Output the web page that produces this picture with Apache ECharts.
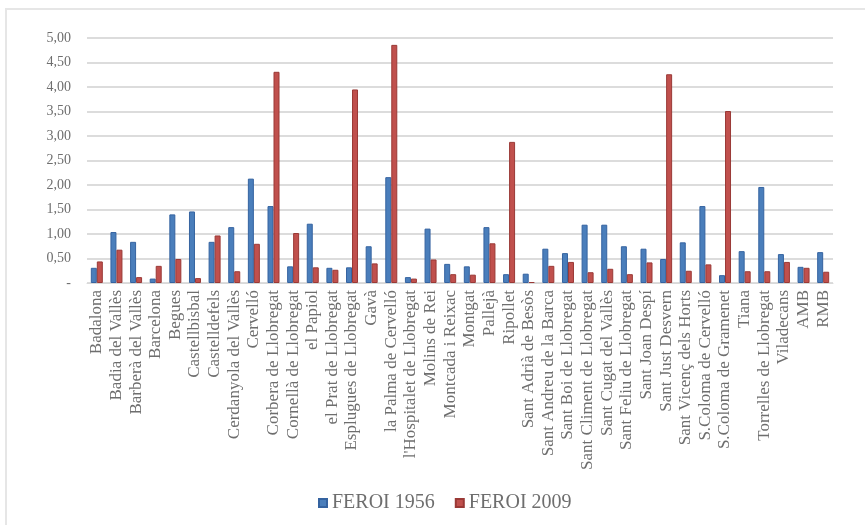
<!DOCTYPE html>
<html>
<head>
<meta charset="utf-8">
<script src="https://cdn.jsdelivr.net/npm/echarts@6/dist/echarts.min.js"></script>
<style>html,body{margin:0;padding:0;background:#fff}#c{width:865px;height:525px}</style>
</head>
<body>
<div id="c"></div>
<script>
const categories = ["Badalona","Badia del Vallès","Barberà del Vallès","Barcelona","Begues","Castellbisbal","Castelldefels","Cerdanyola del Vallès","Cervelló","Corbera de Llobregat","Cornellà de Llobregat","el Papiol","el Prat de Llobregat","Esplugues de Llobregat","Gavà","la Palma de Cervelló","l'Hospitalet de Llobregat","Molins de Rei","Montcada i Reixac","Montgat","Pallejà","Ripollet","Sant Adrià de Besòs","Sant Andreu de la Barca","Sant Boi de Llobregat","Sant Climent de Llobregat","Sant Cugat del Vallès","Sant Feliu de Llobregat","Sant Joan Despí","Sant Just Desvern","Sant Vicenç dels Horts","S.Coloma de Cervelló","S.Coloma de Gramenet","Tiana","Torrelles de Llobregat","Viladecans","AMB","RMB"];
const feroi1956 = [0.31,1.04,0.84,0.09,1.40,1.46,0.84,1.14,2.13,1.57,0.34,1.21,0.31,0.32,0.75,2.16,0.12,1.11,0.39,0.34,1.14,0.18,0.19,0.70,0.61,1.19,1.19,0.75,0.70,0.49,0.83,1.57,0.16,0.65,1.96,0.59,0.33,0.63];
const feroi2009 = [0.44,0.68,0.12,0.35,0.49,0.10,0.97,0.24,0.80,4.31,1.02,0.32,0.27,3.95,0.40,4.86,0.09,0.48,0.18,0.17,0.81,2.88,0.02,0.35,0.43,0.22,0.29,0.18,0.42,4.26,0.25,0.38,3.51,0.24,0.24,0.43,0.31,0.23];
const seriesNames = ["FEROI 1956","FEROI 2009"];

const chart = echarts.init(document.getElementById('c'));
const serif = 'Liberation Serif';
chart.setOption({
  animation: false,
  backgroundColor: '#fff',
  textStyle: {fontFamily: serif},
  graphic: [{
    type: 'rect', shape: {x: 6, y: 9, width: 1000, height: 700},
    style: {fill: 'none', stroke: '#e6e6e6', lineWidth: 2}, silent: true
  }],
  grid: {left: 87, right: 32, top: 38, bottom: 242, containLabel: false},
  legend: {
    data: seriesNames, left: 313, top: 488,
    itemWidth: 8, itemHeight: 8, itemGap: 20, icon: 'rect',
    textStyle: {fontFamily: serif, fontSize: 20, color: '#6e6e6e'}
  },
  xAxis: {
    type: 'category', data: categories,
    axisLine: {show: true, lineStyle: {color: '#d9d9d9', width: 1}},
    axisTick: {show: false},
    axisLabel: {rotate: 90, interval: 0, margin: 7, fontFamily: serif, fontSize: 17, color: '#6e6e6e'}
  },
  yAxis: {
    type: 'value', min: 0, max: 5, interval: 0.5,
    axisLine: {show: false}, axisTick: {show: false},
    splitLine: {lineStyle: {color: '#dcdcdc', width: 2}},
    axisLabel: {
      margin: 16, fontFamily: serif, fontSize: 14, color: '#6e6e6e',
      formatter: v => v === 0 ? '-' : v.toFixed(2).replace('.', ',')
    }
  },
  series: [
    {name: seriesNames[0], type: 'bar', data: feroi1956, barWidth: 6, barGap: '0%',
     itemStyle: {color: '#4a7ebb', borderColor: '#3563a0', borderWidth: 1}},
    {name: seriesNames[1], type: 'bar', data: feroi2009, barWidth: 6,
     itemStyle: {color: '#c0504d', borderColor: '#9a3936', borderWidth: 1}}
  ]
});
</script>
</body>
</html>
